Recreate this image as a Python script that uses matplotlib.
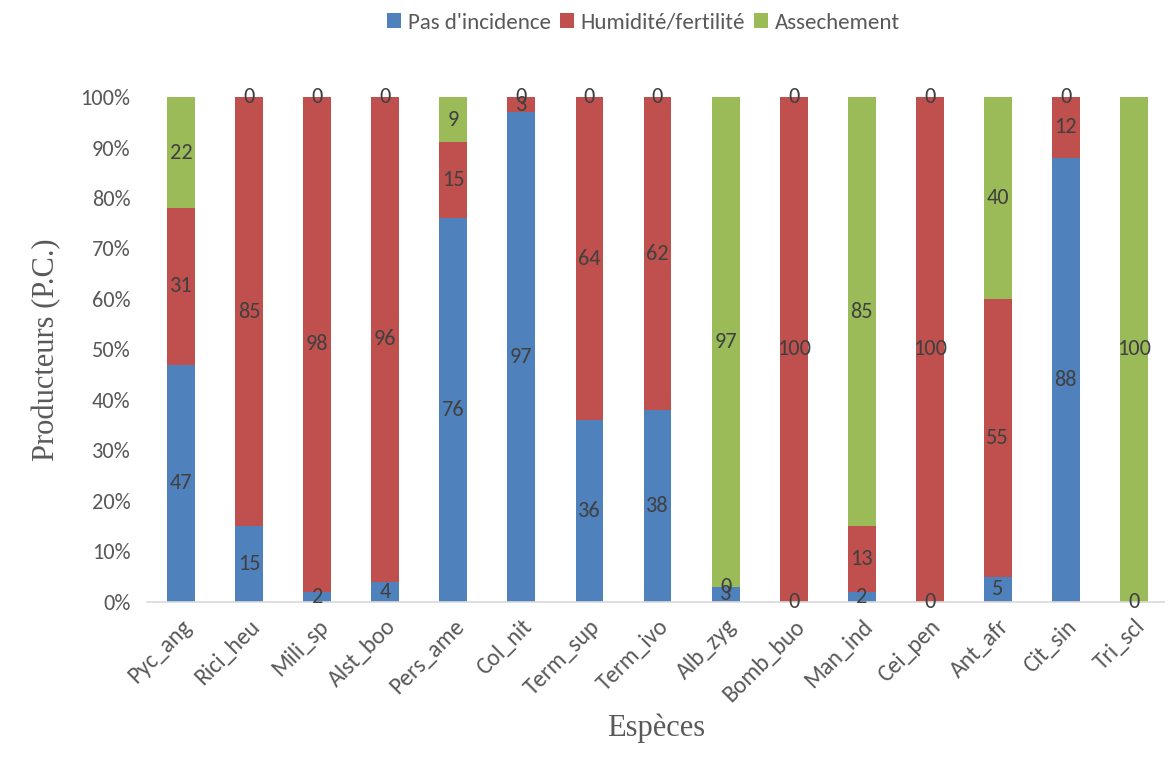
import matplotlib
matplotlib.use("Agg")
import matplotlib.pyplot as plt
from matplotlib import font_manager
import numpy as np

species = ["Pyc_ang", "Rici_heu", "Mili_sp", "Alst_boo", "Pers_ame", "Col_nit", "Term_sup",
           "Term_ivo", "Alb_zyg", "Bomb_buo", "Man_ind", "Cei_pen", "Ant_afr", "Cit_sin", "Tri_scl"]
pas_incidence = [47, 15, 2, 4, 76, 97, 36, 38, 3, 0, 2, 0, 5, 88, 0]
humidite = [31, 85, 98, 96, 15, 3, 64, 62, 0, 100, 13, 100, 55, 12, 0]
assechement = [22, 0, 0, 0, 9, 0, 0, 0, 97, 0, 85, 0, 40, 0, 100]
series_names = ["Pas d'incidence", "Humidité/fertilité", "Assechement"]
# which zero values Excel still labelled
show_zero = {
    0: {9, 11},
    1: {8, 14},
    2: {1, 2, 3, 5, 6, 7, 9, 11, 13},
}

COLORS = ["#4F81BD", "#C0504D", "#9BBB59"]

names = {f.name for f in font_manager.fontManager.ttflist}
SANS = next((f for f in ["Carlito", "Lato", "Open Sans"] if f in names), "DejaVu Sans")
SERIF = "Liberation Serif"

fig = plt.figure(figsize=(11.68, 7.58), dpi=100)
ax = fig.add_axes([0.126, 0.206, 0.871, 0.666])

x = np.arange(len(species))
w = 0.41
bottom = np.zeros(len(species))
handles = []
for k, (vals, name, col) in enumerate(zip([pas_incidence, humidite, assechement], series_names, COLORS)):
    vals = np.array(vals, float)
    b = ax.bar(x, vals, w, bottom=bottom, color=col, label=name)
    handles.append(b)
    for i, v in enumerate(vals):
        if v > 0 or i in show_zero[k]:
            ax.text(x[i], bottom[i] + v / 2, f"{int(v)}", ha="center", va="center",
                    fontsize=16, color="#404040", family=SANS)
    bottom += vals

ax.set_xlim(-0.5, 14.45)
ax.set_ylim(0, 100)
ax.set_yticks(np.arange(0, 101, 10))
ax.set_yticklabels([f"{t}%" for t in range(0, 101, 10)])
ax.set_xticks(x)
ax.set_xticklabels(species, rotation=45, ha="right", rotation_mode="anchor")
for lab in ax.get_yticklabels():
    lab.set_family(SANS)
    lab.set_fontsize(16)
    lab.set_color("#595959")
for lab in ax.get_xticklabels():
    lab.set_family(SANS)
    lab.set_fontsize(17)
    lab.set_color("#595959")
ax.tick_params(axis="both", length=0)
ax.tick_params(axis="x", pad=10)
ax.tick_params(axis="y", pad=12)
for s in ["top", "right", "left"]:
    ax.spines[s].set_visible(False)
ax.spines["bottom"].set_color("#D9D9D9")
ax.spines["bottom"].set_linewidth(1.2)

ax.set_ylabel("Producteurs (P.C.)", family=SERIF, fontsize=22, color="#595959", labelpad=14)
ax.set_xlabel("Espèces", family=SERIF, fontsize=22, color="#595959", labelpad=6)

fig.legend(handles=handles, labels=series_names, loc="center", bbox_to_anchor=(0.551, 0.97),
           ncol=3, frameon=False, handlelength=0.6, handleheight=0.6, handletextpad=0.3,
           columnspacing=0.4, prop={"family": SANS, "size": 16.5}, labelcolor="#595959")

fig.savefig("out.png", dpi=100)
